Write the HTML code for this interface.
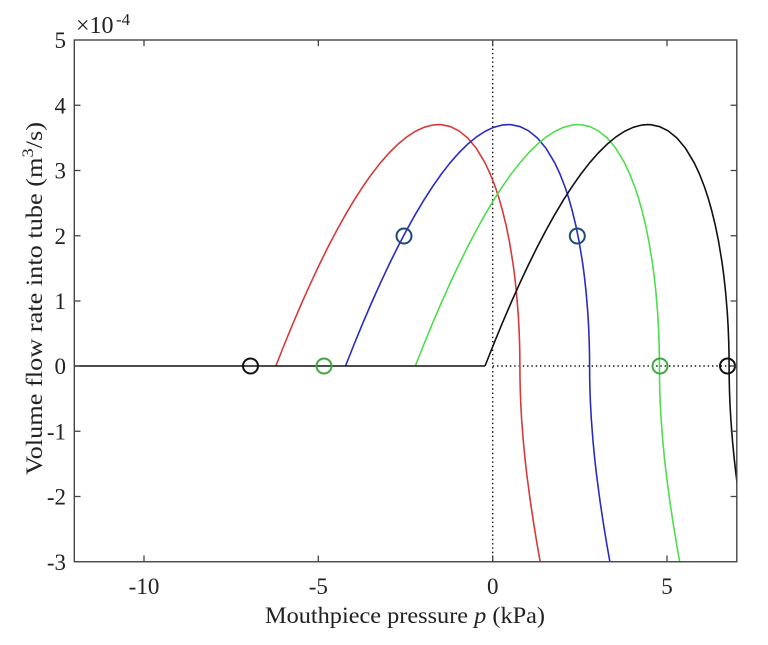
<!DOCTYPE html>
<html>
<head>
<meta charset="utf-8">
<style>
html,body{margin:0;padding:0;background:#fff;}
svg{display:block;}
text{font-family:"Liberation Serif","Times New Roman",serif;fill:#222;}
</style>
</head>
<body>
<svg width="768" height="645" viewBox="0 0 768 645" xmlns="http://www.w3.org/2000/svg">
<defs>
<clipPath id="ax"><rect x="74.3" y="40" width="662.5" height="521.75"/></clipPath>
<path id="cv" fill="none" d="M -244.09 0 L -235.37 -22.00 L -226.66 -43.16 L -217.94 -63.50 L -209.22 -82.97 L -200.50 -101.50 L -191.79 -119.15 L -183.07 -135.79 L -174.35 -151.45 L -165.63 -166.06 L -156.92 -179.57 L -148.20 -191.99 L -139.48 -203.19 L -130.76 -213.13 L -122.05 -221.72 L -113.33 -228.94 L -104.61 -234.64 L -95.89 -238.67 L -87.18 -240.97 L -81.36 -241.43 L -78.46 -241.29 L -69.74 -239.47 L -61.02 -235.19 L -52.31 -228.11 L -43.59 -217.71 L -34.87 -203.19 L -29.64 -192.01 L -24.41 -178.52 L -20.92 -167.88 L -17.44 -155.62 L -13.95 -141.36 L -10.46 -124.30 L -6.97 -102.98 L -5.23 -89.85 L -3.49 -73.89 L -1.74 -52.66 L -0.87 -37.35 L -0.35 -23.69 L -0.07 -10.60 L 0 0 L 0.07 10.60 L 0.35 23.75 L 0.87 37.61 L 1.74 53.37 L 3.49 76.03 L 5.23 93.76 L 6.97 109.04 L 10.46 135.39 L 13.95 158.49 L 17.44 179.57 L 20.92 199.36 L 24.41 218.20"/>
</defs>

<!-- dotted reference lines -->
<line x1="492.7" y1="40" x2="492.7" y2="561.75" stroke="#111" stroke-width="1.4" stroke-dasharray="1.4 2.9"/>
<line x1="492.7" y1="366" x2="736.8" y2="366" stroke="#111" stroke-width="1.4" stroke-dasharray="1.4 2.9"/>

<g clip-path="url(#ax)" stroke-width="1.6" stroke-linejoin="round">
  <use href="#cv" transform="translate(519.9,366)" stroke="#d63a3a"/>
  <use href="#cv" transform="translate(589.6,366)" stroke="#2b2bc4"/>
  <use href="#cv" transform="translate(659.4,366)" stroke="#4fdc4f"/>
  <line x1="60" y1="366" x2="485.01" y2="366" stroke="#111"/>
  <use href="#cv" transform="translate(729.1,366)" stroke="#111"/>
</g>

<!-- markers -->
<g fill="none" stroke-width="2">
  <circle cx="250.5" cy="366" r="7.5" stroke="#111"/>
  <circle cx="727.5" cy="366" r="7.5" stroke="#111"/>
  <circle cx="324" cy="366" r="7.5" stroke="#3fa83f"/>
  <circle cx="660" cy="366" r="7.5" stroke="#3fa83f"/>
  <circle cx="404" cy="236" r="7.5" stroke="#1d4a78"/>
  <circle cx="577.3" cy="236" r="7.5" stroke="#1d4a78"/>
</g>

<!-- axes box -->
<rect x="74.3" y="40" width="662.5" height="521.75" fill="none" stroke="#444" stroke-width="1.4"/>

<!-- ticks -->
<g stroke="#444" stroke-width="1.3">
  <line x1="74.3" y1="105.25" x2="80.5" y2="105.25"/>
  <line x1="74.3" y1="170.5" x2="80.5" y2="170.5"/>
  <line x1="74.3" y1="235.75" x2="80.5" y2="235.75"/>
  <line x1="74.3" y1="301" x2="80.5" y2="301"/>
  <line x1="74.3" y1="366" x2="80.5" y2="366"/>
  <line x1="74.3" y1="431.25" x2="80.5" y2="431.25"/>
  <line x1="74.3" y1="496.5" x2="80.5" y2="496.5"/>
  <line x1="730.6" y1="105.25" x2="736.8" y2="105.25"/>
  <line x1="730.6" y1="170.5" x2="736.8" y2="170.5"/>
  <line x1="730.6" y1="235.75" x2="736.8" y2="235.75"/>
  <line x1="730.6" y1="301" x2="736.8" y2="301"/>
  <line x1="730.6" y1="366" x2="736.8" y2="366"/>
  <line x1="730.6" y1="431.25" x2="736.8" y2="431.25"/>
  <line x1="730.6" y1="496.5" x2="736.8" y2="496.5"/>
  <line x1="144" y1="561.75" x2="144" y2="555.5"/>
  <line x1="318.3" y1="561.75" x2="318.3" y2="555.5"/>
  <line x1="492.7" y1="561.75" x2="492.7" y2="555.5"/>
  <line x1="667" y1="561.75" x2="667" y2="555.5"/>
  <line x1="144" y1="40" x2="144" y2="46.2"/>
  <line x1="318.3" y1="40" x2="318.3" y2="46.2"/>
  <line x1="492.7" y1="40" x2="492.7" y2="46.2"/>
  <line x1="667" y1="40" x2="667" y2="46.2"/>
</g>

<!-- y tick labels -->
<g font-size="23" text-anchor="end">
  <text x="66" y="48">5</text>
  <text x="66" y="113.25">4</text>
  <text x="66" y="178.5">3</text>
  <text x="66" y="243.75">2</text>
  <text x="66" y="309">1</text>
  <text x="66" y="374">0</text>
  <text x="66" y="439.25">-1</text>
  <text x="66" y="504.5">-2</text>
  <text x="66" y="569.75">-3</text>
</g>

<!-- x tick labels -->
<g font-size="23" text-anchor="middle">
  <text x="144" y="594">-10</text>
  <text x="318.3" y="594">-5</text>
  <text x="492.7" y="594">0</text>
  <text x="667" y="594">5</text>
</g>

<!-- exponent -->
<text x="76" y="33" font-size="24">×10</text>
<text x="116" y="25" font-size="17">-4</text>

<!-- x label -->
<text x="265" y="623" font-size="23" textLength="280" lengthAdjust="spacingAndGlyphs">Mouthpiece pressure <tspan font-style="italic">p</tspan> (kPa)</text>

<!-- y label -->
<text transform="translate(42,475) rotate(-90)" font-size="23" textLength="353" lengthAdjust="spacingAndGlyphs">Volume flow rate into tube (m<tspan font-size="16" dy="-9">3</tspan><tspan dy="9">/s)</tspan></text>
</svg>
</body>
</html>
